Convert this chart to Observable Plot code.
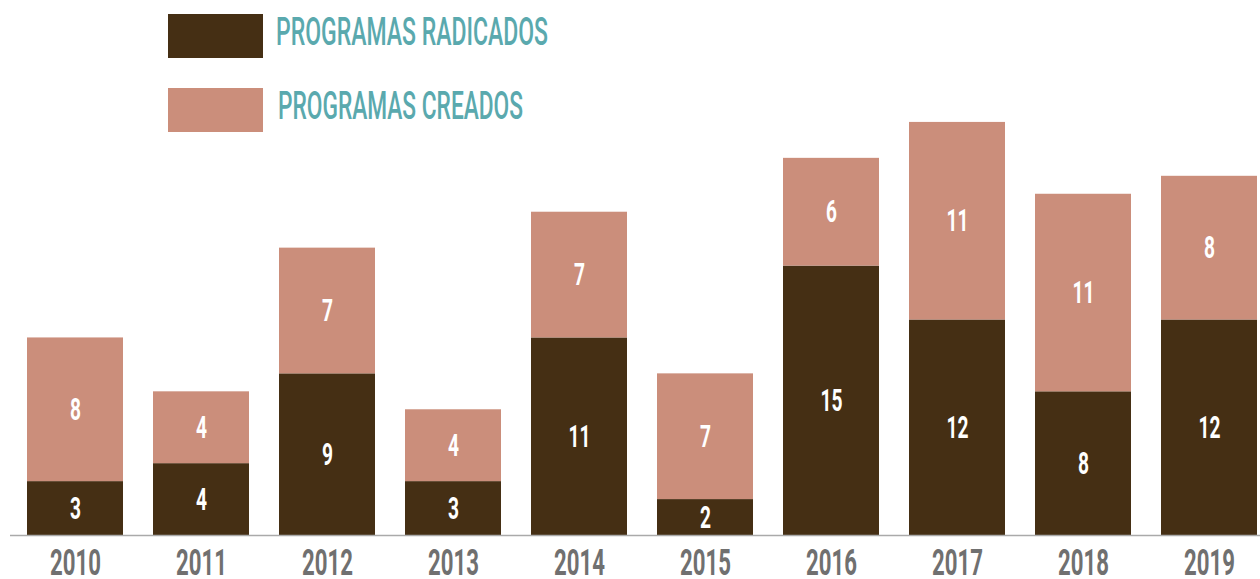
<!DOCTYPE html>
<html>
<head>
<meta charset="utf-8">
<script src="https://cdn.jsdelivr.net/npm/d3@7"></script>
<script src="https://cdn.jsdelivr.net/npm/@observablehq/plot@0.6"></script>
<style>
  html, body { margin: 0; padding: 0; background: #fff; }
  #wrap { position: relative; width: 1260px; height: 579px; }
  #legend { position: absolute; left: 0; top: 0; }
</style>
</head>
<body>
<div id="wrap"></div>
<script>
const years = ["2010","2011","2012","2013","2014","2015","2016","2017","2018","2019"];
const radicados = [3, 4, 9, 3, 11, 2, 15, 12, 8, 12];
const creados = [8, 4, 7, 4, 7, 7, 6, 11, 11, 8];
const seriesNames = ["Programas radicados", "Programas creados"];
const seriesLabels = ["PROGRAMAS RADICADOS", "PROGRAMAS CREADOS"];
const colors = ["#452f14", "#cb8e7b"];

const rows = [];
years.forEach((yr, i) => {
  rows.push({year: yr, serie: seriesNames[0], value: radicados[i]});
  rows.push({year: yr, serie: seriesNames[1], value: creados[i]});
});

const font = "Roboto, 'Noto Sans', sans-serif";

const chart = Plot.plot({
  width: 1260,
  height: 579,
  marginTop: 86,
  marginBottom: 44,
  marginLeft: 10,
  marginRight: 0,
  style: {fontFamily: font, background: "#fff"},
  x: {type: "band", domain: years, range: [25, 1259], paddingInner: 0.24, paddingOuter: 0, label: null},
  y: {domain: [0, 25], axis: null},
  color: {domain: seriesNames, range: colors},
  marks: [
    Plot.barY(rows, {x: "year", y: "value", fill: "serie", order: seriesNames}),
    Plot.ruleY([0], {stroke: "#aaaaaa", strokeWidth: 1.5}),
    Plot.text(rows, Plot.stackY({x: "year", y: "value", z: "serie", order: seriesNames, text: "value",
      fill: "#ffffff", fontSize: 32, fontWeight: 700, lineAnchor: "middle"})),
    Plot.axisX({tickSize: 0, tickPadding: 13, fontSize: 37, fontWeight: 700, fill: "#707070", label: null})
  ]
});

// condense the glyphs horizontally
chart.querySelectorAll("text").forEach(t => {
  const tr = t.getAttribute("transform") || "";
  t.setAttribute("transform", (tr + " scale(0.6,1)").trim());
});

const wrap = document.getElementById("wrap");
wrap.appendChild(chart);

// legend overlay
const ns = "http://www.w3.org/2000/svg";
const leg = document.createElementNS(ns, "svg");
leg.setAttribute("id", "legend");
leg.setAttribute("width", 600);
leg.setAttribute("height", 140);
const legY = [14, 88];
const legTextX = [276, 278];
const legBase = [45, 119];
const legLen = [272, 245];
seriesLabels.forEach((lab, i) => {
  const r = document.createElementNS(ns, "rect");
  r.setAttribute("x", 168); r.setAttribute("y", legY[i]);
  r.setAttribute("width", 95); r.setAttribute("height", 44);
  r.setAttribute("fill", colors[i]);
  leg.appendChild(r);
  const t = document.createElementNS(ns, "text");
  t.setAttribute("x", legTextX[i]); t.setAttribute("y", legBase[i]);
  t.setAttribute("font-family", font);
  t.setAttribute("font-size", 38);
  t.setAttribute("font-weight", 500);
  t.setAttribute("fill", "#5aa9ae");
  t.setAttribute("textLength", legLen[i]);
  t.setAttribute("lengthAdjust", "spacingAndGlyphs");
  t.textContent = lab;
  leg.appendChild(t);
});
wrap.appendChild(leg);
</script>
</body>
</html>
